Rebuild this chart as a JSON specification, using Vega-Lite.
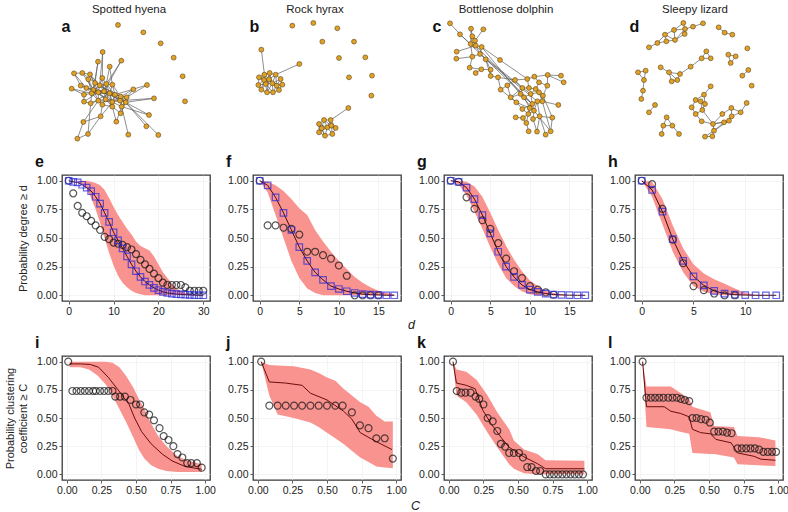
{
"$schema":"https://vega.github.io/schema/vega-lite/v6.json",
"padding":{"left":3,"top":3,"right":2,"bottom":0},
"background":"white",
"datasets":{
"hyN":[{"id":1,"x1":177,"y1":33},{"id":2,"x1":253,"y1":55},{"id":3,"x1":305,"y1":88},{"id":4,"x1":344,"y1":131},{"id":5,"x1":371,"y1":187},{"id":6,"x1":378,"y1":262},{"id":7,"x1":131,"y1":114},{"id":8,"x1":187,"y1":140},{"id":9,"x1":117,"y1":143},{"id":10,"x1":152,"y1":158},{"id":11,"x1":45,"y1":178},{"id":12,"x1":70,"y1":177},{"id":13,"x1":93,"y1":181},{"id":14,"x1":130,"y1":192},{"id":15,"x1":88,"y1":196},{"id":16,"x1":108,"y1":207},{"id":17,"x1":38,"y1":224},{"id":18,"x1":65,"y1":215},{"id":19,"x1":82,"y1":222},{"id":20,"x1":103,"y1":228},{"id":21,"x1":122,"y1":214},{"id":22,"x1":142,"y1":210},{"id":23,"x1":160,"y1":212},{"id":24,"x1":264,"y1":213},{"id":25,"x1":223,"y1":226},{"id":26,"x1":75,"y1":242},{"id":27,"x1":98,"y1":238},{"id":28,"x1":118,"y1":235},{"id":29,"x1":135,"y1":232},{"id":30,"x1":152,"y1":238},{"id":31,"x1":168,"y1":242},{"id":32,"x1":185,"y1":248},{"id":33,"x1":203,"y1":250},{"id":34,"x1":285,"y1":253},{"id":35,"x1":75,"y1":263},{"id":36,"x1":95,"y1":268},{"id":37,"x1":118,"y1":260},{"id":38,"x1":140,"y1":256},{"id":39,"x1":160,"y1":264},{"id":40,"x1":183,"y1":260},{"id":41,"x1":200,"y1":265},{"id":42,"x1":130,"y1":272},{"id":43,"x1":160,"y1":278},{"id":44,"x1":188,"y1":278},{"id":45,"x1":125,"y1":307},{"id":46,"x1":185,"y1":298},{"id":47,"x1":270,"y1":303},{"id":48,"x1":73,"y1":324},{"id":49,"x1":172,"y1":323},{"id":50,"x1":262,"y1":337},{"id":51,"x1":208,"y1":362},{"id":52,"x1":298,"y1":363},{"id":53,"x1":87,"y1":360},{"id":54,"x1":55,"y1":374}],
"hyE":[{"s":7,"t":21},{"s":7,"t":14},{"s":8,"t":22},{"s":8,"t":29},{"s":9,"t":16},{"s":9,"t":20},{"s":10,"t":22},{"s":10,"t":23},{"s":11,"t":19},{"s":11,"t":18},{"s":12,"t":20},{"s":12,"t":16},{"s":13,"t":21},{"s":13,"t":28},{"s":14,"t":29},{"s":15,"t":20},{"s":15,"t":27},{"s":17,"t":27},{"s":17,"t":26},{"s":18,"t":28},{"s":19,"t":29},{"s":24,"t":33},{"s":24,"t":31},{"s":25,"t":33},{"s":25,"t":32},{"s":34,"t":41},{"s":34,"t":40},{"s":35,"t":28},{"s":36,"t":30},{"s":45,"t":39},{"s":45,"t":42},{"s":45,"t":53},{"s":46,"t":41},{"s":46,"t":43},{"s":47,"t":41},{"s":47,"t":44},{"s":48,"t":45},{"s":48,"t":54},{"s":48,"t":37},{"s":49,"t":44},{"s":49,"t":43},{"s":50,"t":41},{"s":51,"t":44},{"s":52,"t":41},{"s":53,"t":54},{"s":53,"t":36},{"s":20,"t":21},{"s":20,"t":22},{"s":20,"t":27},{"s":20,"t":28},{"s":20,"t":29},{"s":20,"t":30},{"s":20,"t":37},{"s":20,"t":38},{"s":21,"t":22},{"s":21,"t":28},{"s":21,"t":29},{"s":21,"t":30},{"s":22,"t":23},{"s":22,"t":29},{"s":22,"t":30},{"s":22,"t":31},{"s":23,"t":30},{"s":23,"t":31},{"s":23,"t":32},{"s":27,"t":28},{"s":27,"t":37},{"s":27,"t":36},{"s":28,"t":29},{"s":28,"t":37},{"s":28,"t":38},{"s":29,"t":30},{"s":29,"t":38},{"s":29,"t":39},{"s":30,"t":31},{"s":30,"t":38},{"s":30,"t":39},{"s":30,"t":40},{"s":31,"t":32},{"s":31,"t":39},{"s":31,"t":40},{"s":31,"t":43},{"s":32,"t":33},{"s":32,"t":40},{"s":32,"t":41},{"s":32,"t":44},{"s":33,"t":41},{"s":33,"t":40},{"s":37,"t":38},{"s":37,"t":42},{"s":38,"t":39},{"s":38,"t":42},{"s":38,"t":43},{"s":39,"t":40},{"s":39,"t":43},{"s":39,"t":44},{"s":40,"t":41},{"s":40,"t":44},{"s":41,"t":44},{"s":42,"t":43},{"s":26,"t":27},{"s":26,"t":35},{"s":35,"t":36},{"s":36,"t":37},{"s":16,"t":21},{"s":16,"t":27},{"s":14,"t":21},{"s":14,"t":22},{"s":19,"t":20},{"s":19,"t":27},{"s":13,"t":16},{"s":12,"t":13},{"s":11,"t":12},{"s":18,"t":19},{"s":16,"t":20},{"s":29,"t":31},{"s":28,"t":30},{"s":21,"t":31},{"s":22,"t":38},{"s":20,"t":39},{"s":27,"t":30},{"s":30,"t":32},{"s":38,"t":40},{"s":29,"t":40},{"s":37,"t":39},{"s":31,"t":33},{"s":32,"t":39},{"s":33,"t":44},{"s":30,"t":43},{"s":29,"t":41},{"s":21,"t":32}],
"rxN":[{"id":1,"x1":880,"y1":65},{"id":2,"x1":943,"y1":57},{"id":3,"x1":1015,"y1":73},{"id":4,"x1":970,"y1":113},{"id":5,"x1":1065,"y1":113},{"id":6,"x1":1020,"y1":162},{"id":7,"x1":1099,"y1":160},{"id":8,"x1":1050,"y1":220},{"id":9,"x1":1119,"y1":215},{"id":10,"x1":1117,"y1":275},{"id":11,"x1":787,"y1":137},{"id":12,"x1":901,"y1":180},{"id":13,"x1":780,"y1":220},{"id":14,"x1":796,"y1":212},{"id":15,"x1":812,"y1":207},{"id":16,"x1":830,"y1":212},{"id":17,"x1":845,"y1":225},{"id":18,"x1":850,"y1":242},{"id":19,"x1":840,"y1":258},{"id":20,"x1":822,"y1":265},{"id":21,"x1":804,"y1":265},{"id":22,"x1":787,"y1":257},{"id":23,"x1":778,"y1":243},{"id":24,"x1":800,"y1":240},{"id":25,"x1":820,"y1":238},{"id":26,"x1":810,"y1":226},{"id":27,"x1":833,"y1":245},{"id":28,"x1":795,"y1":228},{"id":29,"x1":1048,"y1":312},{"id":30,"x1":960,"y1":360},{"id":31,"x1":975,"y1":348},{"id":32,"x1":995,"y1":348},{"id":33,"x1":1010,"y1":372},{"id":34,"x1":1000,"y1":390},{"id":35,"x1":978,"y1":395},{"id":36,"x1":960,"y1":385},{"id":37,"x1":985,"y1":370},{"id":38,"x1":968,"y1":373},{"id":39,"x1":997,"y1":365}],
"rxE":[{"s":11,"t":24},{"s":12,"t":16},{"s":13,"t":14},{"s":13,"t":23},{"s":13,"t":28},{"s":13,"t":26},{"s":14,"t":15},{"s":14,"t":26},{"s":14,"t":28},{"s":15,"t":16},{"s":15,"t":26},{"s":15,"t":25},{"s":16,"t":17},{"s":16,"t":26},{"s":16,"t":25},{"s":17,"t":18},{"s":17,"t":25},{"s":17,"t":27},{"s":18,"t":19},{"s":18,"t":27},{"s":19,"t":20},{"s":19,"t":27},{"s":19,"t":25},{"s":20,"t":21},{"s":20,"t":25},{"s":20,"t":27},{"s":21,"t":22},{"s":21,"t":24},{"s":21,"t":25},{"s":22,"t":23},{"s":22,"t":24},{"s":23,"t":24},{"s":23,"t":28},{"s":24,"t":25},{"s":24,"t":26},{"s":24,"t":28},{"s":25,"t":26},{"s":25,"t":27},{"s":26,"t":28},{"s":26,"t":27},{"s":14,"t":24},{"s":15,"t":24},{"s":22,"t":28},{"s":20,"t":24},{"s":16,"t":27},{"s":13,"t":24},{"s":21,"t":26},{"s":18,"t":25},{"s":29,"t":32},{"s":30,"t":31},{"s":30,"t":36},{"s":30,"t":38},{"s":30,"t":37},{"s":31,"t":32},{"s":31,"t":37},{"s":31,"t":38},{"s":32,"t":39},{"s":32,"t":37},{"s":32,"t":33},{"s":33,"t":39},{"s":33,"t":34},{"s":33,"t":37},{"s":34,"t":35},{"s":34,"t":39},{"s":34,"t":37},{"s":35,"t":36},{"s":35,"t":37},{"s":35,"t":38},{"s":36,"t":38},{"s":37,"t":38},{"s":37,"t":39},{"s":31,"t":39},{"s":30,"t":35},{"s":36,"t":37}],
"dpN":[{"id":1,"x1":33,"y1":28},{"id":2,"x1":63,"y1":61},{"id":3,"x1":96,"y1":44},{"id":4,"x1":133,"y1":46},{"id":5,"x1":100,"y1":67},{"id":6,"x1":95,"y1":90},{"id":7,"x1":110,"y1":95},{"id":8,"x1":128,"y1":99},{"id":9,"x1":53,"y1":113},{"id":10,"x1":52,"y1":134},{"id":11,"x1":100,"y1":128},{"id":12,"x1":123,"y1":120},{"id":13,"x1":140,"y1":136},{"id":14,"x1":183,"y1":138},{"id":15,"x1":92,"y1":161},{"id":16,"x1":110,"y1":177},{"id":17,"x1":127,"y1":166},{"id":18,"x1":155,"y1":167},{"id":19,"x1":155,"y1":186},{"id":20,"x1":177,"y1":190},{"id":21,"x1":185,"y1":227},{"id":22,"x1":205,"y1":214},{"id":23,"x1":228,"y1":198},{"id":24,"x1":265,"y1":195},{"id":25,"x1":286,"y1":188},{"id":26,"x1":326,"y1":183},{"id":27,"x1":366,"y1":185},{"id":28,"x1":374,"y1":205},{"id":29,"x1":325,"y1":215},{"id":30,"x1":300,"y1":205},{"id":31,"x1":290,"y1":225},{"id":32,"x1":270,"y1":222},{"id":33,"x1":250,"y1":222},{"id":34,"x1":245,"y1":240},{"id":35,"x1":255,"y1":250},{"id":36,"x1":275,"y1":240},{"id":37,"x1":300,"y1":235},{"id":38,"x1":312,"y1":245},{"id":39,"x1":310,"y1":262},{"id":40,"x1":295,"y1":262},{"id":41,"x1":280,"y1":270},{"id":42,"x1":272,"y1":282},{"id":43,"x1":285,"y1":290},{"id":44,"x1":268,"y1":300},{"id":45,"x1":250,"y1":285},{"id":46,"x1":232,"y1":265},{"id":47,"x1":215,"y1":250},{"id":48,"x1":230,"y1":310},{"id":49,"x1":252,"y1":312},{"id":50,"x1":262,"y1":327},{"id":51,"x1":282,"y1":315},{"id":52,"x1":302,"y1":307},{"id":53,"x1":340,"y1":311},{"id":54,"x1":358,"y1":273},{"id":55,"x1":269,"y1":352},{"id":56,"x1":294,"y1":353},{"id":57,"x1":320,"y1":362},{"id":58,"x1":335,"y1":352},{"id":59,"x1":108,"y1":80}],
"dpE":[{"s":1,"t":2},{"s":2,"t":6},{"s":3,"t":5},{"s":5,"t":6},{"s":5,"t":7},{"s":4,"t":59},{"s":59,"t":6},{"s":59,"t":7},{"s":6,"t":7},{"s":7,"t":8},{"s":8,"t":12},{"s":6,"t":11},{"s":7,"t":12},{"s":9,"t":7},{"s":10,"t":11},{"s":11,"t":12},{"s":12,"t":13},{"s":8,"t":14},{"s":13,"t":18},{"s":11,"t":15},{"s":15,"t":17},{"s":16,"t":17},{"s":17,"t":18},{"s":18,"t":19},{"s":19,"t":20},{"s":13,"t":19},{"s":14,"t":24},{"s":20,"t":21},{"s":20,"t":23},{"s":21,"t":22},{"s":22,"t":23},{"s":23,"t":24},{"s":24,"t":25},{"s":25,"t":26},{"s":26,"t":27},{"s":26,"t":28},{"s":25,"t":30},{"s":30,"t":29},{"s":29,"t":38},{"s":26,"t":29},{"s":24,"t":32},{"s":32,"t":33},{"s":33,"t":34},{"s":34,"t":35},{"s":35,"t":36},{"s":36,"t":37},{"s":37,"t":38},{"s":38,"t":39},{"s":39,"t":40},{"s":40,"t":41},{"s":41,"t":42},{"s":42,"t":43},{"s":43,"t":44},{"s":44,"t":45},{"s":45,"t":46},{"s":46,"t":47},{"s":47,"t":22},{"s":47,"t":34},{"s":31,"t":36},{"s":31,"t":32},{"s":30,"t":31},{"s":37,"t":39},{"s":36,"t":41},{"s":35,"t":41},{"s":41,"t":43},{"s":40,"t":43},{"s":42,"t":44},{"s":44,"t":49},{"s":49,"t":48},{"s":49,"t":50},{"s":50,"t":55},{"s":43,"t":51},{"s":51,"t":52},{"s":52,"t":56},{"s":51,"t":56},{"s":52,"t":57},{"s":52,"t":53},{"s":39,"t":54},{"s":38,"t":53},{"s":43,"t":58},{"s":39,"t":58},{"s":46,"t":42},{"s":35,"t":42},{"s":7,"t":41},{"s":8,"t":43},{"s":13,"t":40},{"s":21,"t":46},{"s":33,"t":47},{"s":45,"t":41},{"s":40,"t":52},{"s":42,"t":50},{"s":53,"t":58},{"s":2,"t":41},{"s":12,"t":36},{"s":3,"t":6},{"s":23,"t":33}],
"lzN":[{"id":1,"x1":780,"y1":130},{"id":2,"x1":805,"y1":117},{"id":3,"x1":832,"y1":112},{"id":4,"x1":858,"y1":108},{"id":5,"x1":828,"y1":92},{"id":6,"x1":855,"y1":78},{"id":7,"x1":883,"y1":57},{"id":8,"x1":887,"y1":90},{"id":9,"x1":912,"y1":68},{"id":10,"x1":942,"y1":58},{"id":11,"x1":888,"y1":75},{"id":12,"x1":989,"y1":70},{"id":13,"x1":1007,"y1":86},{"id":14,"x1":1030,"y1":92},{"id":15,"x1":1075,"y1":133},{"id":16,"x1":1018,"y1":152},{"id":17,"x1":1040,"y1":157},{"id":18,"x1":1025,"y1":177},{"id":19,"x1":952,"y1":142},{"id":20,"x1":938,"y1":163},{"id":21,"x1":965,"y1":163},{"id":22,"x1":905,"y1":188},{"id":23,"x1":873,"y1":210},{"id":24,"x1":815,"y1":190},{"id":25,"x1":840,"y1":205},{"id":26,"x1":848,"y1":232},{"id":27,"x1":865,"y1":228},{"id":28,"x1":1078,"y1":198},{"id":29,"x1":1060,"y1":215},{"id":30,"x1":1088,"y1":245},{"id":31,"x1":747,"y1":205},{"id":32,"x1":770,"y1":200},{"id":33,"x1":765,"y1":228},{"id":34,"x1":762,"y1":260},{"id":35,"x1":757,"y1":285},{"id":36,"x1":798,"y1":303},{"id":37,"x1":780,"y1":325},{"id":38,"x1":833,"y1":340},{"id":39,"x1":823,"y1":365},{"id":40,"x1":850,"y1":365},{"id":41,"x1":818,"y1":390},{"id":42,"x1":870,"y1":390},{"id":43,"x1":965,"y1":247},{"id":44,"x1":945,"y1":272},{"id":45,"x1":920,"y1":288},{"id":46,"x1":935,"y1":292},{"id":47,"x1":908,"y1":310},{"id":48,"x1":920,"y1":330},{"id":49,"x1":940,"y1":318},{"id":50,"x1":948,"y1":300},{"id":51,"x1":938,"y1":352},{"id":52,"x1":972,"y1":360},{"id":53,"x1":975,"y1":380},{"id":54,"x1":970,"y1":397},{"id":55,"x1":948,"y1":398},{"id":56,"x1":1000,"y1":330},{"id":57,"x1":1027,"y1":312},{"id":58,"x1":1055,"y1":325},{"id":59,"x1":1073,"y1":297},{"id":60,"x1":1020,"y1":350},{"id":61,"x1":1005,"y1":355},{"id":62,"x1":1028,"y1":337}],
"lzE":[{"s":1,"t":2},{"s":2,"t":3},{"s":2,"t":5},{"s":3,"t":4},{"s":3,"t":5},{"s":5,"t":6},{"s":4,"t":6},{"s":6,"t":7},{"s":6,"t":11},{"s":7,"t":11},{"s":11,"t":9},{"s":9,"t":10},{"s":4,"t":8},{"s":8,"t":11},{"s":4,"t":11},{"s":5,"t":4},{"s":12,"t":13},{"s":13,"t":14},{"s":16,"t":17},{"s":16,"t":18},{"s":17,"t":18},{"s":19,"t":20},{"s":19,"t":21},{"s":20,"t":21},{"s":20,"t":22},{"s":22,"t":23},{"s":23,"t":25},{"s":24,"t":25},{"s":25,"t":26},{"s":26,"t":27},{"s":23,"t":27},{"s":25,"t":27},{"s":28,"t":29},{"s":31,"t":32},{"s":32,"t":33},{"s":31,"t":33},{"s":33,"t":34},{"s":34,"t":35},{"s":36,"t":37},{"s":38,"t":39},{"s":38,"t":40},{"s":39,"t":40},{"s":39,"t":41},{"s":40,"t":42},{"s":43,"t":44},{"s":44,"t":45},{"s":44,"t":50},{"s":45,"t":46},{"s":45,"t":47},{"s":46,"t":49},{"s":47,"t":48},{"s":48,"t":49},{"s":49,"t":50},{"s":48,"t":51},{"s":49,"t":52},{"s":51,"t":52},{"s":52,"t":53},{"s":53,"t":54},{"s":53,"t":55},{"s":54,"t":55},{"s":52,"t":61},{"s":52,"t":56},{"s":56,"t":57},{"s":57,"t":62},{"s":62,"t":60},{"s":60,"t":61},{"s":61,"t":53},{"s":58,"t":59},{"s":57,"t":58},{"s":62,"t":58},{"s":50,"t":46},{"s":52,"t":60},{"s":53,"t":60}],
"eS":[{"x":0,"y":1},{"x":1,"y":0.99},{"x":2,"y":0.985},{"x":3,"y":0.965},{"x":4,"y":0.94},{"x":5,"y":0.91},{"x":6,"y":0.86},{"x":7,"y":0.8},{"x":8,"y":0.72},{"x":9,"y":0.64},{"x":10,"y":0.55},{"x":11,"y":0.48},{"x":12,"y":0.41},{"x":13,"y":0.34},{"x":14,"y":0.27},{"x":15,"y":0.21},{"x":16,"y":0.16},{"x":17,"y":0.12},{"x":18,"y":0.09},{"x":19,"y":0.065},{"x":20,"y":0.045},{"x":21,"y":0.03},{"x":22,"y":0.02},{"x":23,"y":0.015},{"x":24,"y":0.01},{"x":25,"y":0.008},{"x":26,"y":0.005},{"x":27,"y":0.003},{"x":28,"y":0.001},{"x":29,"y":0},{"x":30,"y":0}],
"fS":[{"x":0,"y":1},{"x":1,"y":0.96},{"x":2,"y":0.855},{"x":3,"y":0.72},{"x":4,"y":0.57},{"x":5,"y":0.42},{"x":6,"y":0.3},{"x":7,"y":0.2},{"x":8,"y":0.135},{"x":9,"y":0.08},{"x":10,"y":0.055},{"x":11,"y":0.035},{"x":12,"y":0.02},{"x":13,"y":0.01},{"x":14,"y":0.005},{"x":15,"y":0.003},{"x":16,"y":0},{"x":17,"y":0}],
"gS":[{"x":0,"y":1},{"x":1,"y":0.99},{"x":2,"y":0.94},{"x":3,"y":0.84},{"x":4,"y":0.7},{"x":5,"y":0.54},{"x":6,"y":0.38},{"x":7,"y":0.25},{"x":8,"y":0.16},{"x":9,"y":0.09},{"x":10,"y":0.05},{"x":11,"y":0.03},{"x":12,"y":0.015},{"x":13,"y":0.006},{"x":14,"y":0.003},{"x":15,"y":0.001},{"x":16,"y":0},{"x":17,"y":0}],
"hS":[{"x":0,"y":1},{"x":1,"y":0.92},{"x":2,"y":0.73},{"x":3,"y":0.49},{"x":4,"y":0.3},{"x":5,"y":0.165},{"x":6,"y":0.087},{"x":7,"y":0.038},{"x":8,"y":0.015},{"x":9,"y":0.005},{"x":10,"y":0.002},{"x":11,"y":0},{"x":12,"y":0},{"x":13,"y":0}]
},
"vconcat":[
{"hconcat":[
{"width":148,"height":125,"view":{"stroke":null},
 "title":{"text":"Spotted hyena","fontSize":11.5,"fontWeight":"normal","anchor":"middle","dx":-7,"offset":3,"color":"#222"},
 "encoding":{"x":{"field":"x1","type":"quantitative","scale":{"domain":[9,453],"nice":false,"zero":false},"axis":{"orient":"top","title":"a","labels":false,"ticks":false,"domain":false,"grid":false,"titleX":-1,"titleY":12,"titleAlign":"left","titleBaseline":"alphabetic","titleFontSize":16,"titleFontWeight":"bold","titleColor":"#111"}},
  "y":{"field":"y1","type":"quantitative","scale":{"domain":[15,390],"nice":false,"zero":false,"reverse":true},"axis":null}},
 "layer":[
  {"data":{"name":"hyE"},"transform":[{"lookup":"s","from":{"data":{"name":"hyN"},"key":"id","fields":["x1","y1"]}},{"lookup":"t","from":{"data":{"name":"hyN"},"key":"id","fields":["x1","y1"]},"as":["x2","y2"]}],
   "mark":{"type":"rule","color":"#5e5e5e","strokeWidth":0.7},"encoding":{"x2":{"field":"x2"},"y2":{"field":"y2"}}},
  {"data":{"name":"hyN"},"mark":{"type":"point","shape":"circle","filled":true,"fill":"#e0a126","stroke":"#5a4210","strokeWidth":0.6,"size":24,"opacity":1},"encoding":{}}
 ]},
{"width":148,"height":125,"view":{"stroke":null},
 "title":{"text":"Rock hyrax","fontSize":11.5,"fontWeight":"normal","anchor":"middle","dx":-12,"offset":3,"color":"#222"},
 "encoding":{"x":{"field":"x1","type":"quantitative","scale":{"domain":[762,1206],"nice":false,"zero":false},"axis":{"orient":"top","title":"b","labels":false,"ticks":false,"domain":false,"grid":false,"titleX":-4,"titleY":12,"titleAlign":"left","titleBaseline":"alphabetic","titleFontSize":16,"titleFontWeight":"bold","titleColor":"#111"}},
  "y":{"field":"y1","type":"quantitative","scale":{"domain":[45,420],"nice":false,"zero":false,"reverse":true},"axis":null}},
 "layer":[
  {"data":{"name":"rxE"},"transform":[{"lookup":"s","from":{"data":{"name":"rxN"},"key":"id","fields":["x1","y1"]}},{"lookup":"t","from":{"data":{"name":"rxN"},"key":"id","fields":["x1","y1"]},"as":["x2","y2"]}],
   "mark":{"type":"rule","color":"#5e5e5e","strokeWidth":0.7},"encoding":{"x2":{"field":"x2"},"y2":{"field":"y2"}}},
  {"data":{"name":"rxN"},"mark":{"type":"point","shape":"circle","filled":true,"fill":"#e0a126","stroke":"#5a4210","strokeWidth":0.6,"size":24,"opacity":1},"encoding":{}}
 ]},
{"width":148,"height":125,"view":{"stroke":null},
 "title":{"text":"Bottlenose dolphin","fontSize":11.5,"fontWeight":"normal","anchor":"middle","dx":-12,"offset":3,"color":"#222"},
 "encoding":{"x":{"field":"x1","type":"quantitative","scale":{"domain":[15,459],"nice":false,"zero":false},"axis":{"orient":"top","title":"c","labels":false,"ticks":false,"domain":false,"grid":false,"titleX":-12,"titleY":12,"titleAlign":"left","titleBaseline":"alphabetic","titleFontSize":16,"titleFontWeight":"bold","titleColor":"#111"}},
  "y":{"field":"y1","type":"quantitative","scale":{"domain":[15,390],"nice":false,"zero":false,"reverse":true},"axis":null}},
 "layer":[
  {"data":{"name":"dpE"},"transform":[{"lookup":"s","from":{"data":{"name":"dpN"},"key":"id","fields":["x1","y1"]}},{"lookup":"t","from":{"data":{"name":"dpN"},"key":"id","fields":["x1","y1"]},"as":["x2","y2"]}],
   "mark":{"type":"rule","color":"#5e5e5e","strokeWidth":0.7},"encoding":{"x2":{"field":"x2"},"y2":{"field":"y2"}}},
  {"data":{"name":"dpN"},"mark":{"type":"point","shape":"circle","filled":true,"fill":"#e0a126","stroke":"#5a4210","strokeWidth":0.6,"size":24,"opacity":1},"encoding":{}}
 ]},
{"width":148,"height":125,"view":{"stroke":null},
 "title":{"text":"Sleepy lizard","fontSize":11.5,"fontWeight":"normal","anchor":"middle","dx":-14,"offset":3,"color":"#222"},
 "encoding":{"x":{"field":"x1","type":"quantitative","scale":{"domain":[738,1182],"nice":false,"zero":false},"axis":{"orient":"top","title":"d","labels":false,"ticks":false,"domain":false,"grid":false,"titleX":-6,"titleY":12,"titleAlign":"left","titleBaseline":"alphabetic","titleFontSize":16,"titleFontWeight":"bold","titleColor":"#111"}},
  "y":{"field":"y1","type":"quantitative","scale":{"domain":[45,420],"nice":false,"zero":false,"reverse":true},"axis":null}},
 "layer":[
  {"data":{"name":"lzE"},"transform":[{"lookup":"s","from":{"data":{"name":"lzN"},"key":"id","fields":["x1","y1"]}},{"lookup":"t","from":{"data":{"name":"lzN"},"key":"id","fields":["x1","y1"]},"as":["x2","y2"]}],
   "mark":{"type":"rule","color":"#5e5e5e","strokeWidth":0.7},"encoding":{"x2":{"field":"x2"},"y2":{"field":"y2"}}},
  {"data":{"name":"lzN"},"mark":{"type":"point","shape":"circle","filled":true,"fill":"#e0a126","stroke":"#5a4210","strokeWidth":0.6,"size":24,"opacity":1},"encoding":{}}
 ]}
],"spacing":43,"bounds":"flush"},
{"vconcat":[
{"hconcat":[
{"width":148,"height":126,"title":{"text":"e"},
 "encoding":{"x":{"field":"x","type":"quantitative","scale":{"domain":[-1.5,31.5],"nice":false,"zero":false},"axis":{"values":[0,10,20,30],"format":"d","title":null}},
  "y":{"field":"y","type":"quantitative","scale":{"domain":[-0.05,1.05],"nice":false,"zero":false},"axis":{"values":[0,0.25,0.5,0.75,1],"format":".2f","title":"Probability degree ≥ d","titlePadding":8}}},
 "layer":[
  {"data":{"values":[{"x":0,"y":1,"y2":1},{"x":1,"y":1,"y2":1},{"x":2,"y":0.99,"y2":1},{"x":3,"y":0.97,"y2":1},{"x":4,"y":0.93,"y2":1},{"x":5,"y":0.85,"y2":0.99},{"x":6,"y":0.75,"y2":0.98},{"x":7,"y":0.63,"y2":0.96},{"x":8,"y":0.5,"y2":0.92},{"x":9,"y":0.37,"y2":0.85},{"x":10,"y":0.26,"y2":0.77},{"x":11,"y":0.17,"y2":0.7},{"x":12,"y":0.11,"y2":0.64},{"x":13,"y":0.07,"y2":0.58},{"x":14,"y":0.04,"y2":0.53},{"x":15,"y":0.02,"y2":0.47},{"x":16,"y":0.01,"y2":0.43},{"x":17,"y":0,"y2":0.41},{"x":18,"y":0,"y2":0.39},{"x":19,"y":0,"y2":0.34},{"x":20,"y":0,"y2":0.27},{"x":21,"y":0,"y2":0.2},{"x":22,"y":0,"y2":0.15},{"x":23,"y":0,"y2":0.1},{"x":24,"y":0,"y2":0.06},{"x":25,"y":0,"y2":0.04},{"x":26,"y":0,"y2":0.02},{"x":27,"y":0,"y2":0.01},{"x":28,"y":0,"y2":0.01},{"x":29,"y":0,"y2":0},{"x":30,"y":0,"y2":0}]},
   "mark":{"type":"area","color":"#f8938f","opacity":1},"encoding":{"y2":{"field":"y2"}}},
  {"data":{"name":"eS"},"mark":{"type":"line","color":"#4a0a0a","strokeWidth":1},"encoding":{}},
  {"data":{"values":[{"x":0,"y":1},{"x":1,"y":0.89},{"x":2,"y":0.78},{"x":3,"y":0.72},{"x":4,"y":0.69},{"x":5,"y":0.65},{"x":6,"y":0.61},{"x":7,"y":0.57},{"x":8,"y":0.51},{"x":9,"y":0.49},{"x":10,"y":0.46},{"x":11,"y":0.45},{"x":12,"y":0.44},{"x":13,"y":0.42},{"x":14,"y":0.4},{"x":15,"y":0.36},{"x":16,"y":0.31},{"x":17,"y":0.27},{"x":18,"y":0.23},{"x":19,"y":0.19},{"x":20,"y":0.15},{"x":21,"y":0.11},{"x":22,"y":0.09},{"x":23,"y":0.09},{"x":24,"y":0.09},{"x":25,"y":0.09},{"x":26,"y":0.07},{"x":27,"y":0.04},{"x":28,"y":0.04},{"x":29,"y":0.04},{"x":30,"y":0.04}]},
   "mark":{"type":"point","shape":"circle","filled":false,"color":"#111","strokeWidth":1.2,"size":48},"encoding":{}},
  {"data":{"name":"eS"},"mark":{"type":"point","shape":"square","filled":false,"color":"#2626d9","strokeWidth":1.2,"size":42},"encoding":{}}
 ]},
{"width":148,"height":126,"title":{"text":"f"},
 "encoding":{"x":{"field":"x","type":"quantitative","scale":{"domain":[-0.85,17.85],"nice":false,"zero":false},"axis":{"values":[0,5,10,15],"format":"d","title":"d","titleFontStyle":"italic","titleFontSize":12.5,"titleX":158,"titleY":27,"titleAlign":"center","titleBaseline":"alphabetic"}},
  "y":{"field":"y","type":"quantitative","scale":{"domain":[-0.05,1.05],"nice":false,"zero":false},"axis":{"values":[0,0.25,0.5,0.75,1],"format":".2f","title":null}}},
 "layer":[
  {"data":{"values":[{"x":0,"y":1,"y2":1},{"x":1,"y":0.9,"y2":0.99},{"x":2,"y":0.7,"y2":0.96},{"x":3,"y":0.5,"y2":0.91},{"x":4,"y":0.3,"y2":0.84},{"x":5,"y":0.15,"y2":0.76},{"x":6,"y":0.06,"y2":0.7},{"x":7,"y":0.02,"y2":0.57},{"x":8,"y":0,"y2":0.47},{"x":9,"y":0,"y2":0.38},{"x":10,"y":0,"y2":0.3},{"x":11,"y":0,"y2":0.23},{"x":12,"y":0,"y2":0.16},{"x":13,"y":0,"y2":0.11},{"x":14,"y":0,"y2":0.07},{"x":15,"y":0,"y2":0.04},{"x":16,"y":0,"y2":0.02},{"x":17,"y":0,"y2":0.01}]},
   "mark":{"type":"area","color":"#f8938f","opacity":1},"encoding":{"y2":{"field":"y2"}}},
  {"data":{"name":"fS"},"mark":{"type":"line","color":"#4a0a0a","strokeWidth":1},"encoding":{}},
  {"data":{"values":[{"x":0,"y":1},{"x":1,"y":0.61},{"x":2,"y":0.61},{"x":3,"y":0.59},{"x":4,"y":0.58},{"x":5,"y":0.53},{"x":6,"y":0.38},{"x":7,"y":0.38},{"x":8,"y":0.35},{"x":9,"y":0.32},{"x":10,"y":0.26},{"x":11,"y":0.17},{"x":12,"y":0},{"x":13,"y":0},{"x":14,"y":0},{"x":15,"y":0}]},
   "mark":{"type":"point","shape":"circle","filled":false,"color":"#111","strokeWidth":1.2,"size":48},"encoding":{}},
  {"data":{"name":"fS"},"mark":{"type":"point","shape":"square","filled":false,"color":"#2626d9","strokeWidth":1.2,"size":42},"encoding":{}}
 ]},
{"width":148,"height":126,"title":{"text":"g"},
 "encoding":{"x":{"field":"x","type":"quantitative","scale":{"domain":[-0.85,17.85],"nice":false,"zero":false},"axis":{"values":[0,5,10,15],"format":"d","title":null}},
  "y":{"field":"y","type":"quantitative","scale":{"domain":[-0.05,1.05],"nice":false,"zero":false},"axis":{"values":[0,0.25,0.5,0.75,1],"format":".2f","title":null}}},
 "layer":[
  {"data":{"values":[{"x":0,"y":1,"y2":1},{"x":1,"y":0.97,"y2":1},{"x":2,"y":0.87,"y2":0.99},{"x":3,"y":0.73,"y2":0.95},{"x":4,"y":0.58,"y2":0.86},{"x":5,"y":0.42,"y2":0.72},{"x":6,"y":0.27,"y2":0.57},{"x":7,"y":0.15,"y2":0.43},{"x":8,"y":0.08,"y2":0.31},{"x":9,"y":0.035,"y2":0.21},{"x":10,"y":0.01,"y2":0.13},{"x":11,"y":0,"y2":0.08},{"x":12,"y":0,"y2":0.04},{"x":13,"y":0,"y2":0.02},{"x":14,"y":0,"y2":0.01},{"x":15,"y":0,"y2":0}]},
   "mark":{"type":"area","color":"#f8938f","opacity":1},"encoding":{"y2":{"field":"y2"}}},
  {"data":{"name":"gS"},"mark":{"type":"line","color":"#4a0a0a","strokeWidth":1},"encoding":{}},
  {"data":{"values":[{"x":0,"y":1},{"x":1,"y":0.99},{"x":2,"y":0.855},{"x":3,"y":0.755},{"x":4,"y":0.655},{"x":5,"y":0.58},{"x":6,"y":0.455},{"x":7,"y":0.32},{"x":8,"y":0.21},{"x":9,"y":0.15},{"x":10,"y":0.08},{"x":11,"y":0.05},{"x":12,"y":0.025},{"x":13,"y":0.005}]},
   "mark":{"type":"point","shape":"circle","filled":false,"color":"#111","strokeWidth":1.2,"size":48},"encoding":{}},
  {"data":{"name":"gS"},"mark":{"type":"point","shape":"square","filled":false,"color":"#2626d9","strokeWidth":1.2,"size":42},"encoding":{}}
 ]},
{"width":148,"height":126,"title":{"text":"h"},
 "encoding":{"x":{"field":"x","type":"quantitative","scale":{"domain":[-0.65,13.65],"nice":false,"zero":false},"axis":{"values":[0,5,10],"format":"d","title":null}},
  "y":{"field":"y","type":"quantitative","scale":{"domain":[-0.05,1.05],"nice":false,"zero":false},"axis":{"values":[0,0.25,0.5,0.75,1],"format":".2f","title":null}}},
 "layer":[
  {"data":{"values":[{"x":0,"y":1,"y2":1},{"x":1,"y":0.86,"y2":0.99},{"x":2,"y":0.62,"y2":0.84},{"x":3,"y":0.38,"y2":0.61},{"x":4,"y":0.2,"y2":0.41},{"x":5,"y":0.08,"y2":0.27},{"x":6,"y":0.03,"y2":0.19},{"x":7,"y":0.01,"y2":0.14},{"x":8,"y":0,"y2":0.1},{"x":9,"y":0,"y2":0.06},{"x":10,"y":0,"y2":0.02},{"x":11,"y":0,"y2":0.005},{"x":12,"y":0,"y2":0}]},
   "mark":{"type":"area","color":"#f8938f","opacity":1},"encoding":{"y2":{"field":"y2"}}},
  {"data":{"name":"hS"},"mark":{"type":"line","color":"#4a0a0a","strokeWidth":1},"encoding":{}},
  {"data":{"values":[{"x":0,"y":1},{"x":1,"y":0.97},{"x":2,"y":0.755},{"x":3,"y":0.485},{"x":4,"y":0.28},{"x":5,"y":0.08},{"x":6,"y":0.045},{"x":7,"y":0.015},{"x":8,"y":0},{"x":9,"y":0}]},
   "mark":{"type":"point","shape":"circle","filled":false,"color":"#111","strokeWidth":1.2,"size":48},"encoding":{}},
  {"data":{"name":"hS"},"mark":{"type":"point","shape":"square","filled":false,"color":"#2626d9","strokeWidth":1.2,"size":42},"encoding":{}}
 ]}
],"spacing":43,"bounds":"flush"},
{"hconcat":[
{"width":148,"height":124,"title":{"text":"i"},
 "encoding":{"x":{"field":"x","type":"quantitative","scale":{"domain":[-0.035,1.035],"nice":false,"zero":false},"axis":{"values":[0,0.25,0.5,0.75,1],"format":".2f","title":null}},
  "y":{"field":"y","type":"quantitative","scale":{"domain":[-0.05,1.05],"nice":false,"zero":false},"axis":{"values":[0,0.25,0.5,0.75,1],"format":".2f","title":["Probability clustering","coefficient ≥ C"],"titlePadding":8,"titleLineHeight":13}}},
 "layer":[
  {"data":{"values":[{"x":0.02,"y":0.95,"y2":1},{"x":0.1,"y":0.95,"y2":1},{"x":0.16,"y":0.93,"y2":1},{"x":0.22,"y":0.88,"y2":1},{"x":0.28,"y":0.8,"y2":1},{"x":0.33,"y":0.7,"y2":0.99},{"x":0.38,"y":0.58,"y2":0.95},{"x":0.43,"y":0.46,"y2":0.87},{"x":0.48,"y":0.33,"y2":0.77},{"x":0.52,"y":0.22,"y2":0.67},{"x":0.56,"y":0.14,"y2":0.58},{"x":0.61,"y":0.08,"y2":0.45},{"x":0.66,"y":0.05,"y2":0.34},{"x":0.72,"y":0.03,"y2":0.25},{"x":0.8,"y":0.02,"y2":0.16},{"x":0.88,"y":0.02,"y2":0.12},{"x":0.975,"y":0.02,"y2":0.09}]},
   "mark":{"type":"area","color":"#f8938f","opacity":1},"encoding":{"y2":{"field":"y2"}}},
  {"data":{"values":[{"x":0.02,"y":0.98},{"x":0.1,"y":0.98},{"x":0.17,"y":0.975},{"x":0.23,"y":0.95},{"x":0.3,"y":0.86},{"x":0.37,"y":0.75},{"x":0.45,"y":0.62},{"x":0.49,"y":0.5},{"x":0.54,"y":0.38},{"x":0.61,"y":0.27},{"x":0.69,"y":0.18},{"x":0.76,"y":0.12},{"x":0.855,"y":0.07},{"x":0.975,"y":0.045}]},
   "mark":{"type":"line","color":"#6b0d0d","strokeWidth":1},"encoding":{}},
  {"data":{"values":[{"x":0.01,"y":1},{"x":0.04,"y":0.74},{"x":0.07,"y":0.74},{"x":0.1,"y":0.74},{"x":0.13,"y":0.74},{"x":0.16,"y":0.74},{"x":0.19,"y":0.74},{"x":0.21,"y":0.74},{"x":0.24,"y":0.74},{"x":0.27,"y":0.74},{"x":0.3,"y":0.74},{"x":0.33,"y":0.74},{"x":0.35,"y":0.69},{"x":0.385,"y":0.69},{"x":0.42,"y":0.69},{"x":0.46,"y":0.66},{"x":0.5,"y":0.62},{"x":0.53,"y":0.62},{"x":0.56,"y":0.55},{"x":0.595,"y":0.53},{"x":0.63,"y":0.48},{"x":0.67,"y":0.41},{"x":0.7,"y":0.34},{"x":0.735,"y":0.305},{"x":0.77,"y":0.25},{"x":0.8,"y":0.18},{"x":0.835,"y":0.15},{"x":0.87,"y":0.1},{"x":0.9,"y":0.1},{"x":0.94,"y":0.1},{"x":0.975,"y":0.06}]},
   "mark":{"type":"point","shape":"circle","filled":false,"color":"#111","strokeWidth":1.2,"size":48},"encoding":{}}
 ]},
{"width":148,"height":124,"title":{"text":"j"},
 "encoding":{"x":{"field":"x","type":"quantitative","scale":{"domain":[-0.035,1.035],"nice":false,"zero":false},"axis":{"values":[0,0.25,0.5,0.75,1],"format":".2f","title":"C","titleFontStyle":"italic","titleFontSize":12.5,"titleX":162,"titleY":29,"titleAlign":"center","titleBaseline":"alphabetic"}},
  "y":{"field":"y","type":"quantitative","scale":{"domain":[-0.05,1.05],"nice":false,"zero":false},"axis":{"values":[0,0.25,0.5,0.75,1],"format":".2f","title":null}}},
 "layer":[
  {"data":{"values":[{"x":0.024,"y":1,"y2":1},{"x":0.083,"y":0.7,"y2":0.97},{"x":0.143,"y":0.53,"y2":0.965},{"x":0.26,"y":0.5,"y2":0.96},{"x":0.38,"y":0.46,"y2":0.93},{"x":0.44,"y":0.42,"y2":0.9},{"x":0.5,"y":0.37,"y2":0.86},{"x":0.56,"y":0.32,"y2":0.83},{"x":0.62,"y":0.27,"y2":0.76},{"x":0.68,"y":0.21,"y2":0.7},{"x":0.74,"y":0.15,"y2":0.64},{"x":0.8,"y":0.11,"y2":0.6},{"x":0.857,"y":0.07,"y2":0.52},{"x":0.917,"y":0.06,"y2":0.47},{"x":0.976,"y":0.055,"y2":0.47}]},
   "mark":{"type":"area","color":"#f8938f","opacity":1},"encoding":{"y2":{"field":"y2"}}},
  {"data":{"values":[{"x":0.024,"y":1},{"x":0.083,"y":0.82},{"x":0.2,"y":0.81},{"x":0.32,"y":0.79},{"x":0.38,"y":0.72},{"x":0.5,"y":0.66},{"x":0.62,"y":0.56},{"x":0.68,"y":0.49},{"x":0.74,"y":0.37},{"x":0.857,"y":0.29},{"x":0.97,"y":0.22}]},
   "mark":{"type":"line","color":"#6b0d0d","strokeWidth":1},"encoding":{}},
  {"data":{"values":[{"x":0.024,"y":1},{"x":0.083,"y":0.61},{"x":0.143,"y":0.61},{"x":0.202,"y":0.61},{"x":0.262,"y":0.61},{"x":0.32,"y":0.61},{"x":0.38,"y":0.61},{"x":0.44,"y":0.61},{"x":0.5,"y":0.61},{"x":0.56,"y":0.61},{"x":0.613,"y":0.61},{"x":0.68,"y":0.55},{"x":0.738,"y":0.435},{"x":0.8,"y":0.41},{"x":0.857,"y":0.32},{"x":0.917,"y":0.32},{"x":0.976,"y":0.14}]},
   "mark":{"type":"point","shape":"circle","filled":false,"color":"#111","strokeWidth":1.2,"size":48},"encoding":{}}
 ]},
{"width":148,"height":124,"title":{"text":"k"},
 "encoding":{"x":{"field":"x","type":"quantitative","scale":{"domain":[-0.035,1.035],"nice":false,"zero":false},"axis":{"values":[0,0.25,0.5,0.75,1],"format":".2f","title":null}},
  "y":{"field":"y","type":"quantitative","scale":{"domain":[-0.05,1.05],"nice":false,"zero":false},"axis":{"values":[0,0.25,0.5,0.75,1],"format":".2f","title":null}}},
 "layer":[
  {"data":{"values":[{"x":0.03,"y":1,"y2":1},{"x":0.055,"y":0.7,"y2":0.93},{"x":0.126,"y":0.64,"y2":0.91},{"x":0.2,"y":0.53,"y2":0.84},{"x":0.28,"y":0.37,"y2":0.7},{"x":0.35,"y":0.24,"y2":0.55},{"x":0.436,"y":0.09,"y2":0.4},{"x":0.47,"y":0.05,"y2":0.3},{"x":0.543,"y":0.01,"y2":0.22},{"x":0.64,"y":0,"y2":0.18},{"x":0.7,"y":0,"y2":0.125},{"x":0.98,"y":0,"y2":0.12}]},
   "mark":{"type":"area","color":"#f8938f","opacity":1},"encoding":{"y2":{"field":"y2"}}},
  {"data":{"values":[{"x":0.03,"y":1},{"x":0.055,"y":0.81},{"x":0.126,"y":0.79},{"x":0.19,"y":0.76},{"x":0.245,"y":0.57},{"x":0.305,"y":0.45},{"x":0.376,"y":0.33},{"x":0.436,"y":0.24},{"x":0.543,"y":0.155},{"x":0.64,"y":0.095},{"x":0.7,"y":0.05},{"x":0.98,"y":0.05}]},
   "mark":{"type":"line","color":"#6b0d0d","strokeWidth":1},"encoding":{}},
  {"data":{"values":[{"x":0.03,"y":1},{"x":0.057,"y":0.74},{"x":0.09,"y":0.725},{"x":0.12,"y":0.725},{"x":0.157,"y":0.725},{"x":0.193,"y":0.69},{"x":0.22,"y":0.67},{"x":0.25,"y":0.62},{"x":0.28,"y":0.5},{"x":0.317,"y":0.47},{"x":0.35,"y":0.385},{"x":0.376,"y":0.27},{"x":0.407,"y":0.245},{"x":0.436,"y":0.19},{"x":0.47,"y":0.19},{"x":0.507,"y":0.19},{"x":0.536,"y":0.15},{"x":0.567,"y":0.065},{"x":0.598,"y":0.065},{"x":0.63,"y":0.03},{"x":0.66,"y":0.03},{"x":0.7,"y":0},{"x":0.73,"y":0},{"x":0.76,"y":0},{"x":0.79,"y":0},{"x":0.82,"y":0},{"x":0.85,"y":0},{"x":0.88,"y":0},{"x":0.91,"y":0},{"x":0.94,"y":0},{"x":0.97,"y":0}]},
   "mark":{"type":"point","shape":"circle","filled":false,"color":"#111","strokeWidth":1.2,"size":48},"encoding":{}}
 ]},
{"width":148,"height":124,"title":{"text":"l"},
 "encoding":{"x":{"field":"x","type":"quantitative","scale":{"domain":[-0.035,1.035],"nice":false,"zero":false},"axis":{"values":[0,0.25,0.5,0.75,1],"format":".2f","title":null}},
  "y":{"field":"y","type":"quantitative","scale":{"domain":[-0.05,1.05],"nice":false,"zero":false},"axis":{"values":[0,0.25,0.5,0.75,1],"format":".2f","title":null}}},
 "layer":[
  {"data":{"values":[{"x":0.02,"y":1,"y2":1},{"x":0.048,"y":0.42,"y2":0.78},{"x":0.224,"y":0.4,"y2":0.78},{"x":0.284,"y":0.38,"y2":0.73},{"x":0.357,"y":0.36,"y2":0.67},{"x":0.38,"y":0.19,"y2":0.6},{"x":0.51,"y":0.18,"y2":0.55},{"x":0.537,"y":0.18,"y2":0.43},{"x":0.68,"y":0.15,"y2":0.42},{"x":0.706,"y":0.09,"y2":0.34},{"x":0.86,"y":0.08,"y2":0.33},{"x":0.98,"y":0.075,"y2":0.3}]},
   "mark":{"type":"area","color":"#f8938f","opacity":1},"encoding":{"y2":{"field":"y2"}}},
  {"data":{"values":[{"x":0.02,"y":1},{"x":0.048,"y":0.6},{"x":0.176,"y":0.6},{"x":0.224,"y":0.56},{"x":0.296,"y":0.54},{"x":0.357,"y":0.51},{"x":0.38,"y":0.4},{"x":0.44,"y":0.37},{"x":0.51,"y":0.36},{"x":0.55,"y":0.31},{"x":0.66,"y":0.28},{"x":0.706,"y":0.19},{"x":0.826,"y":0.16},{"x":0.875,"y":0.135},{"x":0.98,"y":0.125}]},
   "mark":{"type":"line","color":"#6b0d0d","strokeWidth":1},"encoding":{}},
  {"data":{"values":[{"x":0.02,"y":1},{"x":0.048,"y":0.68},{"x":0.08,"y":0.68},{"x":0.11,"y":0.68},{"x":0.14,"y":0.68},{"x":0.17,"y":0.68},{"x":0.205,"y":0.68},{"x":0.236,"y":0.68},{"x":0.267,"y":0.68},{"x":0.296,"y":0.67},{"x":0.325,"y":0.66},{"x":0.357,"y":0.65},{"x":0.38,"y":0.5},{"x":0.41,"y":0.5},{"x":0.443,"y":0.49},{"x":0.475,"y":0.485},{"x":0.506,"y":0.46},{"x":0.537,"y":0.38},{"x":0.568,"y":0.38},{"x":0.6,"y":0.38},{"x":0.63,"y":0.37},{"x":0.663,"y":0.365},{"x":0.706,"y":0.23},{"x":0.737,"y":0.23},{"x":0.769,"y":0.23},{"x":0.8,"y":0.23},{"x":0.831,"y":0.23},{"x":0.862,"y":0.22},{"x":0.893,"y":0.2},{"x":0.925,"y":0.2},{"x":0.956,"y":0.2},{"x":0.985,"y":0.2}]},
   "mark":{"type":"point","shape":"circle","filled":false,"color":"#111","strokeWidth":1.2,"size":48},"encoding":{}}
 ]}
],"spacing":43,"bounds":"flush"}
],"spacing":2,"bounds":"full"}
],
"spacing":9,"bounds":"full",
"config":{
 "font":"Liberation Sans",
 "view":{"stroke":"#3a3a3a","strokeWidth":1.3},
 "axis":{"labelFont":"Liberation Sans","labelFontSize":10.5,"labelColor":"#222","tickColor":"#333","tickSize":3,"tickWidth":0.8,"domain":false,"grid":true,"gridColor":"#ededed","gridWidth":0.6,"labelPadding":2,"titleFont":"Liberation Sans","titleFontWeight":"normal","titleColor":"#222","titleFontSize":11},
 "title":{"font":"Liberation Sans","fontSize":16,"fontWeight":"bold","anchor":"start","frame":"group","dx":-27,"offset":5,"color":"#111"}
}
}
